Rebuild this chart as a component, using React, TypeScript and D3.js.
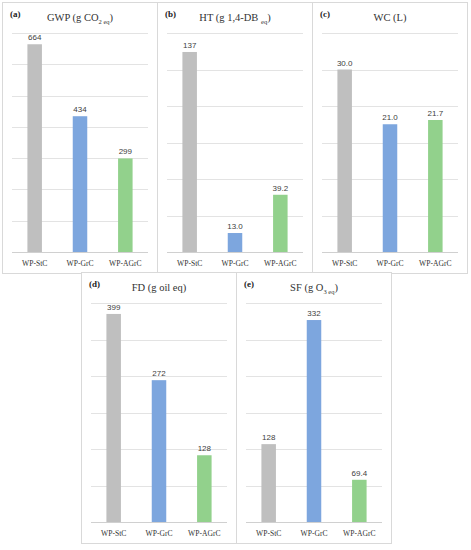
import React from "react";
import * as d3 from "d3";

// categories shared by all five panels
const categories = ["WP-StC", "WP-GrC", "WP-AGrC"];
const barColors = ["#bfbfbf", "#7da6de", "#92d18c"];

// values per impact category
const gwpValues = [664, 434, 299];
const htValues = [137, 13.0, 39.2];
const wcValues = [30.0, 21.0, 21.7];
const fdValues = [399, 272, 128];
const sfValues = [128, 332, 69.4];

// axis maxima and gridline steps (axes hidden, only gridlines drawn)
const axisMax = [700, 150, 36, 420, 360];
const axisStep = [100, 25, 6, 70, 60];

const panelLetters = ["(a)", "(b)", "(c)", "(d)", "(e)"];
// titles as [text, isSubscript] pieces
const panelTitles: [string, boolean][][] = [
  [["GWP (g CO", false], ["2 eq", true], [")", false]],
  [["HT (g 1,4-DB ", false], ["eq", true], [")", false]],
  [["WC (L)", false]],
  [["FD (g oil eq)", false]],
  [["SF (g O", false], ["3 eq", true], [")", false]],
];
const panelValues = [gwpValues, htValues, wcValues, fdValues, sfValues];

// panel frame positions
const panelX = [2, 157, 312, 81, 236];
const panelY = [2, 2, 2, 272, 272];
const panelW = 155;
const panelH = 271;

const fmt = d3.format(".3r");

function Panel({ i }: { i: number }) {
  const values = panelValues[i];
  const x = d3
    .scaleBand<string>()
    .domain(categories)
    .range([10, 146])
    .paddingInner(0.68)
    .paddingOuter(0.34);
  const y = d3.scaleLinear().domain([0, axisMax[i]]).range([250, 31]);
  const grid = d3.range(0, axisMax[i] + axisStep[i] / 2, axisStep[i]);

  return (
    <g transform={`translate(${panelX[i]},${panelY[i]})`}>
      <rect x={0.5} y={0.5} width={panelW} height={panelH} fill="#fff" stroke="#d9d9d9" />
      {grid.map((g) => (
        <line key={g} x1={10} x2={146} y1={Math.round(y(g)) + 0.5} y2={Math.round(y(g)) + 0.5}
          stroke={g === 0 ? "#d0d0d0" : "#e3e3e3"} strokeWidth={1} />
      ))}
      {values.map((v, j) => (
        <g key={j}>
          <rect x={x(categories[j])} y={y(v)} width={x.bandwidth()} height={y(0) - y(v)} fill={barColors[j]} />
          <text x={x(categories[j])! + x.bandwidth() / 2} y={y(v) - 4} textAnchor="middle"
            fontFamily="Liberation Sans, Arial, sans-serif" fontSize={8} fill="#404040">
            {fmt(v)}
          </text>
          <text x={x(categories[j])! + x.bandwidth() / 2} y={264} textAnchor="middle"
            fontFamily="Liberation Serif, serif" fontSize={7.6} fill="#333">
            {categories[j]}
          </text>
        </g>
      ))}
      <text x={8} y={15} fontFamily="Liberation Serif, serif" fontWeight="bold" fontSize={9} fill="#222">
        {panelLetters[i]}
      </text>
      <text x={78} y={19} textAnchor="middle" fontFamily="Liberation Serif, serif" fontSize={10.5} fill="#333">
        {panelTitles[i].map(([t, sub], k) => (
          <tspan key={k} fontSize={sub ? 6.5 : 10.5} dy={sub ? 2.5 : k > 0 ? -2.5 : 0}>
            {t}
          </tspan>
        ))}
      </text>
    </g>
  );
}

export default function App() {
  return (
    <svg width={471} height={550} style={{ position: "absolute", left: 0, top: 0, background: "#fff" }}>
      <rect width={471} height={550} fill="#fff" />
      {panelValues.map((_, i) => (
        <Panel key={i} i={i} />
      ))}
    </svg>
  );
}
